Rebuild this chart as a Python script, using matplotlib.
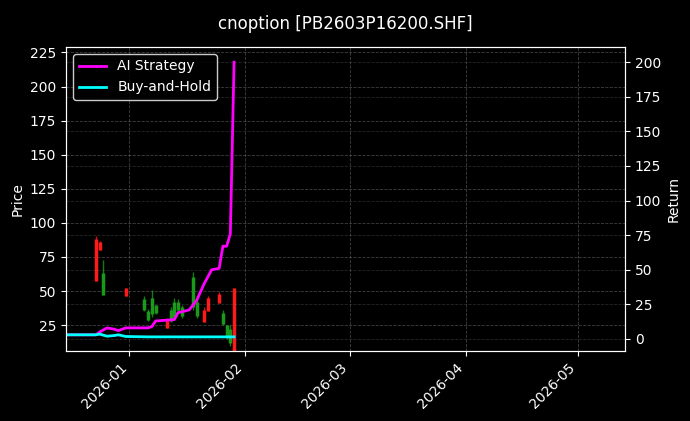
import matplotlib.pyplot as plt
import matplotlib.dates as mdates
import pandas as pd

# candles (date, open, high, low, close)
c_dates = ['2025-12-23', '2025-12-24', '2025-12-25', '2025-12-31', '2026-01-05',
           '2026-01-06', '2026-01-07', '2026-01-08', '2026-01-11', '2026-01-12',
           '2026-01-13', '2026-01-14', '2026-01-15', '2026-01-18', '2026-01-19',
           '2026-01-21', '2026-01-22', '2026-01-25', '2026-01-26', '2026-01-27',
           '2026-01-28', '2026-01-29']
c_open = [57, 80, 63, 46, 44, 35, 45, 40, 23, 36, 42, 42, 38, 60, 42, 27, 35, 41, 34, 25, 22, 5]
c_high = [90, 87, 73, 52, 46, 37, 51, 40, 30, 38, 45, 44, 40, 64, 45, 38, 46, 49, 36, 25, 25, 52]
c_low = [57, 80, 47, 46, 35, 28, 31, 33, 23, 27, 30, 35, 30, 36, 30, 27, 35, 41, 25, 15, 10, 5]
c_close = [88, 86, 47, 52, 36, 29, 33, 34, 29, 28, 31, 36, 32, 38, 32, 36, 45, 48, 26, 16, 12, 52]

# strategy / buy-and-hold returns (%)
r_dates = ['2025-12-15', '2025-12-23', '2025-12-24', '2025-12-26', '2025-12-28', '2025-12-29',
           '2025-12-31', '2026-01-06', '2026-01-07', '2026-01-08', '2026-01-13', '2026-01-14',
           '2026-01-17', '2026-01-19', '2026-01-21', '2026-01-23', '2026-01-25', '2026-01-26',
           '2026-01-27', '2026-01-28', '2026-01-29']
strategy = [3, 3, 5, 8, 7, 6, 8, 8, 9, 13, 14, 19, 21, 28, 40, 50, 51, 67, 67, 76, 200]
buyhold = [3, 3, 3.5, 2, 2.5, 3, 1.8, 1.5, 1.5, 1.5, 1.5, 1.5, 1.5, 1.5, 1.5, 1.5, 1.5, 1.5,
           1.5, 1.5, 1.5]

plt.style.use('dark_background')
fig = plt.figure(figsize=(6.9, 4.21), dpi=100)
ax = fig.add_axes([66 / 690, 70 / 421, 559 / 690, 304 / 421])
ax2 = ax.twinx()

cd = pd.to_datetime(c_dates)
for d, o, h, l, c in zip(cd, c_open, c_high, c_low, c_close):
    col = '#ff1a1a' if c > o else '#1a9a1a'
    ax.vlines(d, l, h, color=col, linewidth=1, alpha=0.8)
    ax.vlines(d, min(o, c), max(o, c), color=col, linewidth=2.5)

rd = pd.to_datetime(r_dates)
ax2.plot(rd, strategy, color='#ff00ff', linewidth=2, label='AI Strategy')
ax2.plot(rd, buyhold, color='#00ffff', linewidth=2, label='Buy-and-Hold')

ax.set_xlim(pd.Timestamp('2025-12-15'), pd.Timestamp('2026-05-13 16:00'))
ax.set_ylim(6, 229)
ax2.set_ylim(-8.7, 211)
ax.set_yticks(range(25, 226, 25))
ax2.set_yticks(range(0, 201, 25))
ax.set_ylabel('Price')
ax2.set_ylabel('Return')
ax.xaxis.set_major_locator(mdates.MonthLocator())
ax.xaxis.set_major_formatter(mdates.DateFormatter('%Y-%m'))
plt.setp(ax.get_xticklabels(), rotation=45, ha='right')
ax.grid(True, linestyle='--', color='grey', alpha=0.5, linewidth=0.6)
ax2.grid(True, linestyle='--', color='grey', alpha=0.3, linewidth=0.6)
ax2.legend(loc='upper left', facecolor='black', edgecolor='white')
fig.suptitle('cnoption [PB2603P16200.SHF]', y=0.965)
fig.savefig('out.png', facecolor='black')
